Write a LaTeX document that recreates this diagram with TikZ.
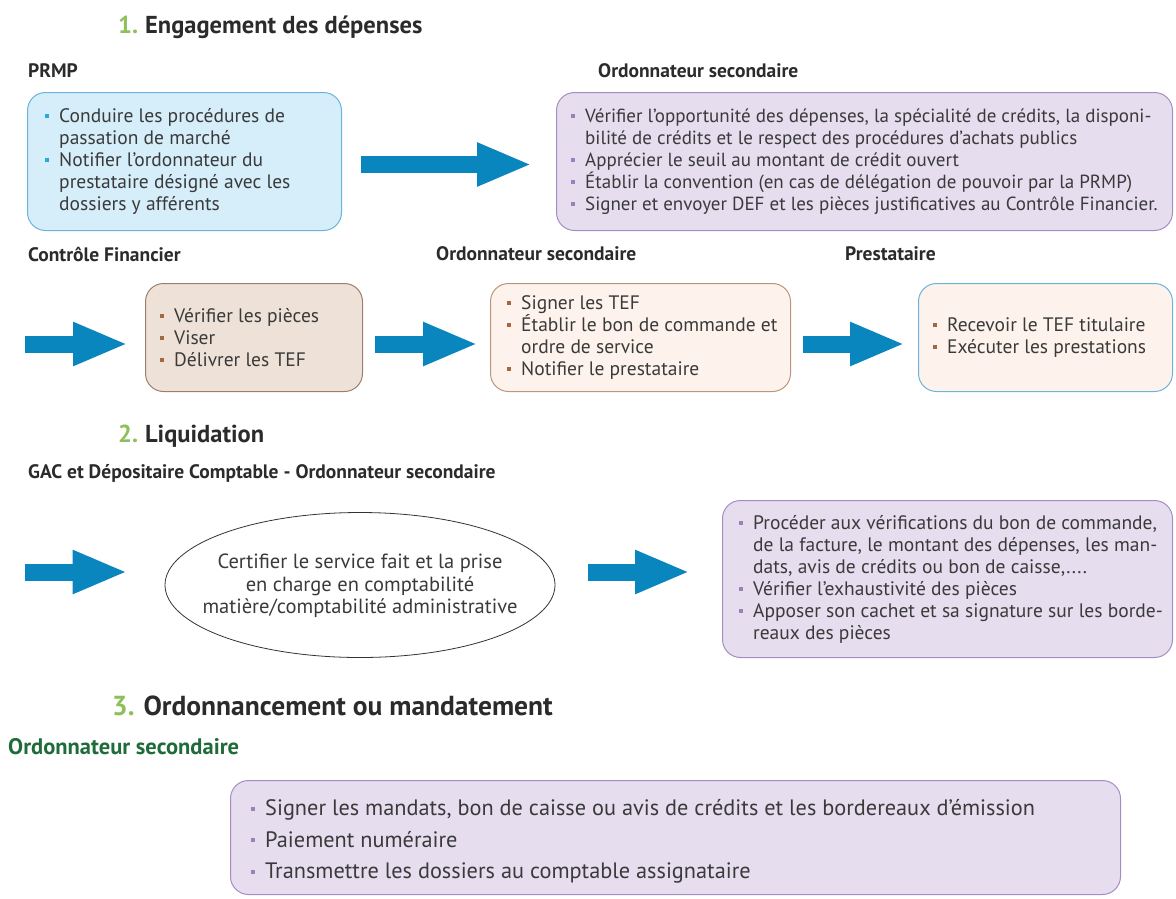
\documentclass[tikz,border=0pt]{standalone}
\usepackage{fontspec}
\setmainfont{PT Sans}
\usetikzlibrary{arrows.meta,shapes.geometric,calc}
\definecolor{arrowblue}{HTML}{0A86BE}
\definecolor{bluefill}{HTML}{D5EEFA}
\definecolor{blueline}{HTML}{6BB3DB}
\definecolor{bluebul}{HTML}{29A8E0}
\definecolor{purfill}{HTML}{E6DDEF}
\definecolor{purline}{HTML}{A58DC4}
\definecolor{purbul}{HTML}{9B7FBF}
\definecolor{brfill}{HTML}{EEE2D8}
\definecolor{brline}{HTML}{9E7E68}
\definecolor{brbul}{HTML}{A5673F}
\definecolor{pfill}{HTML}{FDF3EC}
\definecolor{pline}{HTML}{B8957D}
\definecolor{titlegreen}{HTML}{8DBF5A}
\definecolor{darkgreen}{HTML}{1F6B3A}
\definecolor{txtgray}{HTML}{3A3A3A}
\definecolor{headgray}{HTML}{2B2B2B}
\newcommand\bul[1]{\makebox[14pt][l]{\textcolor{#1}{\rule[0.22em]{3.8pt}{3.8pt}}}}
\newcommand\cont{\hspace*{14pt}}
\begin{document}
\begin{tikzpicture}[x=1pt,y=-1pt,
  card/.style={rounded corners=18pt, line width=1pt, anchor=north west, inner sep=0pt},
  bluecard/.style={card, fill=bluefill, draw=blueline},
  purcard/.style={card, fill=purfill, draw=purline},
  brcard/.style={card, fill=brfill, draw=brline},
  pcard/.style={card, fill=pfill, draw=pline},
  prcard/.style={card, fill=pfill, draw=blueline},
  txt/.style={anchor=west, inner sep=0pt, align=left, text=txtgray, font=\fontsize{19.5}{22}\selectfont},
  title/.style={anchor=west, inner sep=0pt, text=headgray, font=\bfseries\fontsize{24.5}{28}\selectfont},
  role/.style={anchor=west, inner sep=0pt, text=headgray, font=\bfseries\fontsize{19.5}{22}\selectfont},
  blk/.style={draw=arrowblue, line width=17pt, -{Triangle[length=55pt,width=40pt,fill=arrowblue]}},
]
\useasboundingbox (0,0) rectangle (1176,898);

% Section 1
\node[title] (t1) at (118,27) {\textcolor{titlegreen}{1.}\hspace{7pt}Engagement des dépenses};
\node[role] (r1) at (28,71) {PRMP};
\node[role] (r2) at (598,71) {Ordonnateur secondaire};

\node[bluecard, minimum width=314pt, minimum height=138pt] (prmp) at (27,92) {};
\node[txt] (prmpt) at ([xshift=18pt]prmp.west) {\bul{bluebul}Conduire les procédures de\\
\cont passation de marché\\
\bul{bluebul}Notifier l’ordonnateur du\\
\cont prestataire désigné avec les\\
\cont dossiers y afférents};

\node[purcard, minimum width=616pt, minimum height=138pt] (purp1) at (556,92) {};
\node[txt, font=\fontsize{19}{22}\selectfont] (purp1t) at ([xshift=15pt]purp1.west) {\bul{purbul}Vérifier l’opportunité des dépenses, la spécialité de crédits, la disponi-\\
\cont bilité de crédits et le respect des procédures d’achats publics\\
\bul{purbul}Apprécier le seuil au montant de crédit ouvert\\
\bul{purbul}Établir la convention (en cas de délégation de pouvoir par la PRMP)\\
\bul{purbul}Signer et envoyer DEF et les pièces justificatives au Contrôle Financier.};

\draw[blk, shorten <=19pt, shorten >=24pt] ([yshift=-3pt]prmp.east) -- ([yshift=-3pt]purp1.west);

% Row 2
\node[role] (r3) at (28,254) {Contrôle Financier};
\node[role] (r4) at (436,254) {Ordonnateur secondaire};
\node[role] (r5) at (845,254) {Prestataire};

\node[brcard, minimum width=217pt, minimum height=108pt] (cf) at (145,283) {};
\node[txt] (cft) at ([xshift=15pt]cf.west) {\bul{brbul}Vérifier les pièces\\
\bul{brbul}Viser\\
\bul{brbul}Délivrer les TEF};

\node[pcard, minimum width=300pt, minimum height=108pt] (os) at (490,283) {};
\node[txt] (ost) at ([xshift=17pt]os.west) {\bul{brbul}Signer les TEF\\
\bul{brbul}Établir le bon de commande et\\
\cont ordre de service\\
\bul{brbul}Notifier le prestataire};

\node[prcard, minimum width=254pt, minimum height=108pt] (pr) at (918,283) {};
\node[txt] (prt) at ([xshift=15pt]pr.west) {\bul{brbul}Recevoir le TEF titulaire\\
\bul{brbul}Exécuter les prestations};

\coordinate (s2) at (25,344);
\draw[blk, shorten >=17pt] (s2) -- (s2 -| cf.west);
\draw[blk, shorten <=12pt, shorten >=12pt] (s2 -| cf.east) -- (s2 -| os.west);
\draw[blk, shorten <=12pt, shorten >=13pt] (s2 -| os.east) -- (s2 -| pr.west);

% Section 2
\node[title] (t2) at (118,436) {\textcolor{titlegreen}{2.}\hspace{7pt}Liquidation};
\node[role] (r6) at (28,473) {GAC et Dépositaire Comptable - Ordonnateur secondaire};

\node[ellipse, draw=black!80, line width=0.8pt, fill=white, minimum width=390pt, minimum height=145pt, inner sep=0pt] (ell) at (360,585) {};
\node[inner sep=0pt, align=center, text=txtgray, font=\fontsize{20.5}{22.5}\selectfont] (ellt) at ([yshift=-1pt]ell.center) {Certifier le service fait et la prise\\en charge en comptabilité\\matière/comptabilité administrative};

\node[purcard, minimum width=450pt, minimum height=157pt] (purp2) at (722,500) {};
\node[txt] (purp2t) at ([xshift=17pt]purp2.west) {\bul{purbul}Procéder aux vérifications du bon de commande,\\
\cont de la facture, le montant des dépenses, les man-\\
\cont dats, avis de crédits ou bon de caisse,....\\
\bul{purbul}Vérifier l’exhaustivité des pièces\\
\bul{purbul}Apposer son cachet et sa signature sur les borde-\\
\cont reaux des pièces};

\coordinate (s5) at (25,572);
\draw[blk, shorten >=37pt] (s5) -- (s5 -| ell.west);
\draw[blk, shorten <=33pt, shorten >=32pt] (s5 -| ell.east) -- (s5 -| purp2.west);

% Section 3
\node[title, font=\bfseries\fontsize{27.5}{30}\selectfont] (t3) at (112,706) {\textcolor{titlegreen}{3.}\hspace{9pt}Ordonnancement ou mandatement};
\node[role, text=darkgreen, font=\bfseries\fontsize{22.5}{24}\selectfont] (r7) at (8,747) {Ordonnateur secondaire};

\node[purcard, minimum width=890pt, minimum height=114pt] (purp3) at (230,780) {};
\node[txt, font=\fontsize{22.3}{31.5}\selectfont] (purp3t) at ([xshift=21pt,yshift=-4pt]purp3.west) {\bul{purbul}Signer les mandats, bon de caisse ou avis de crédits et les bordereaux d’émission\\
\bul{purbul}Paiement numéraire\\
\bul{purbul}Transmettre les dossiers au comptable assignataire};
\end{tikzpicture}
\end{document}
